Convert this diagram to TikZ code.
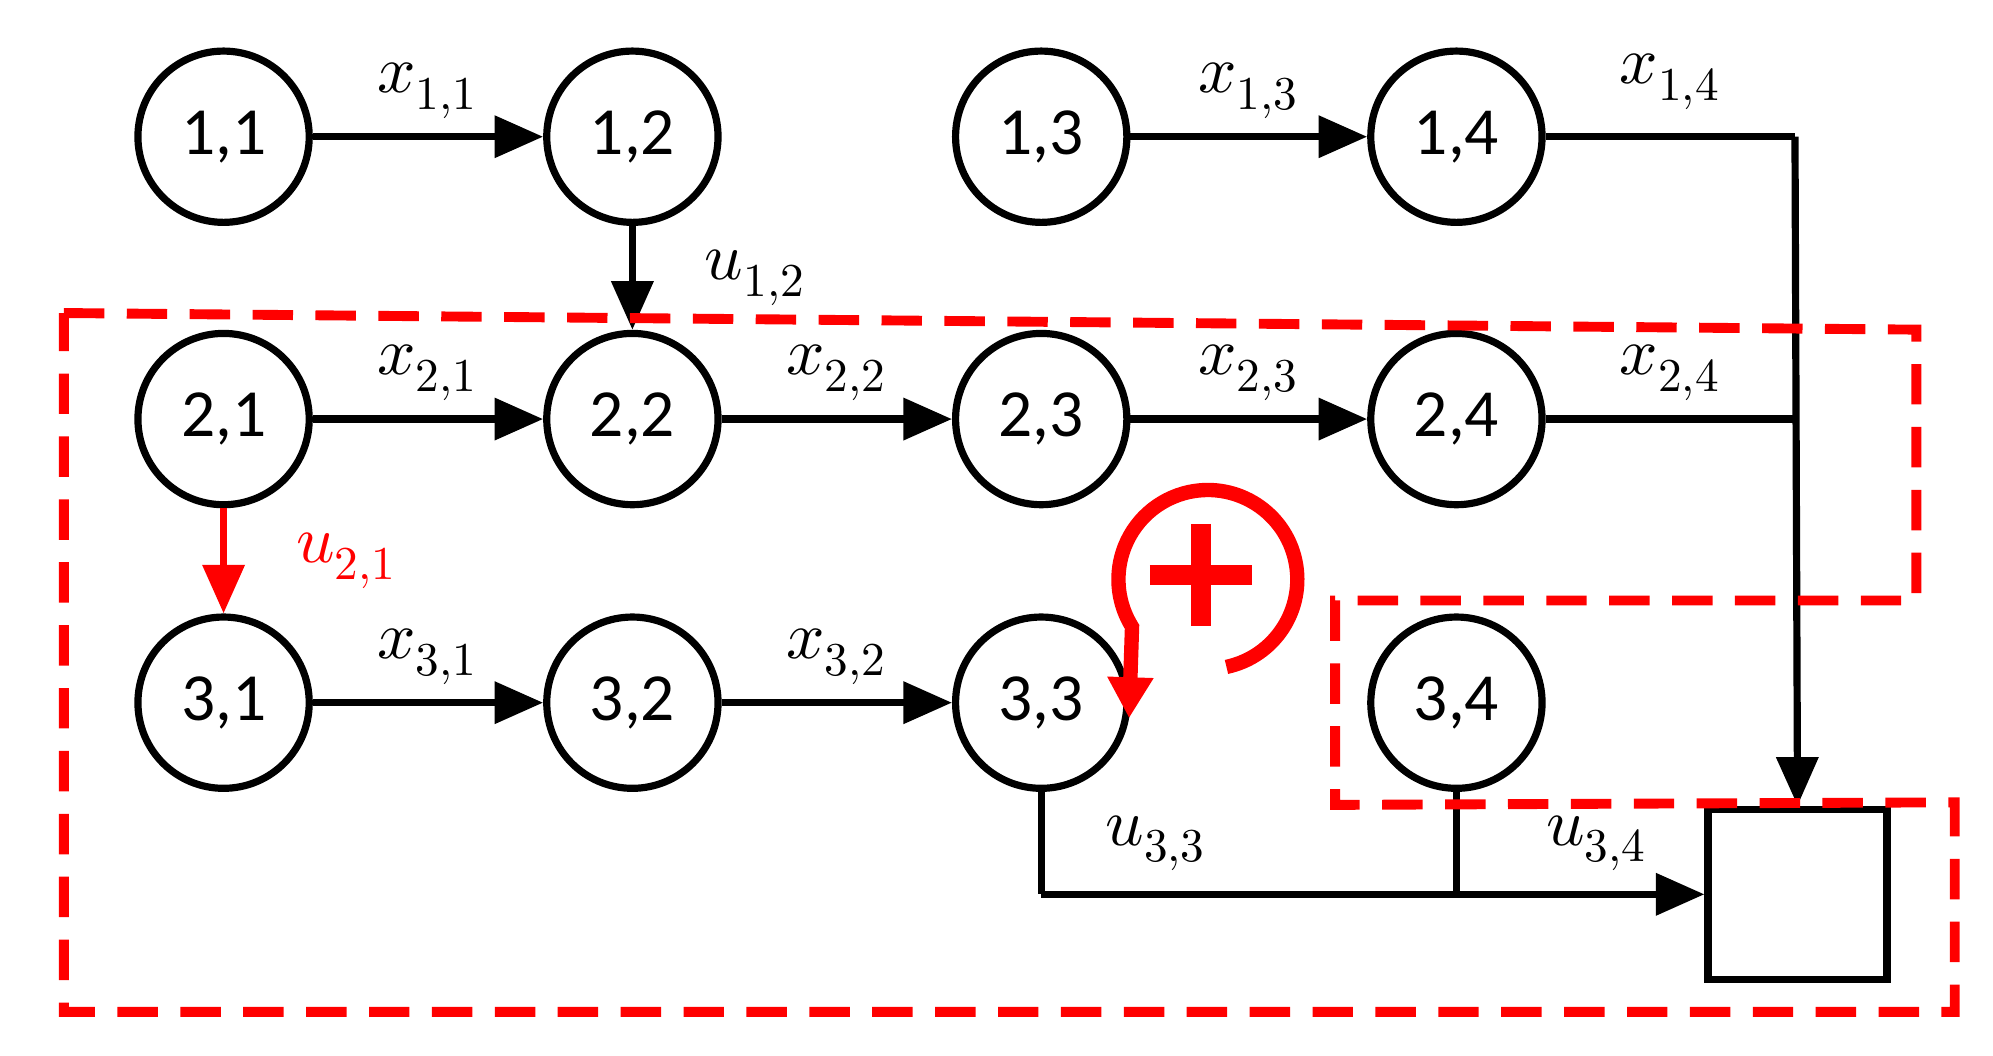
\documentclass[tikz,border=0pt]{standalone}
\usepackage{fontspec}
\setmainfont{Carlito}
\usepackage{unicode-math}
\usetikzlibrary{arrows.meta}
\begin{document}
\begin{tikzpicture}[x=0.01cm,y=-0.01cm,
 st/.style={circle,draw,line width=1.6pt,minimum size=1.34cm,inner sep=0pt,font=\fontsize{15}{17}\selectfont},
 ln/.style={line width=1.6pt},
 ar/.style={ln,-{Triangle[length=0.38cm,width=0.32cm]}},
 lb/.style={font=\fontsize{15}{17}\selectfont}]
\useasboundingbox (0,0) rectangle (1560,826);
\foreach \r/\y in {1/107,2/328,3/550}{
 \foreach \c/\x in {1/175,2/495,3/815,4/1140}{
  \node[st] (n\r\c) at (\x,\y) {\r,\c};}}
\node[draw,line width=1.6pt,minimum width=1.4cm,minimum height=1.33cm] (box) at (1407,700) {};
\coordinate (c14) at (1405,107);
\coordinate (c24) at (1405,328);
\coordinate (c33) at (815,700);
\coordinate (c34) at (1140,700);
\draw[ar] (n11) -- (n12) node[lb,midway,above] {$x_{1,1}$};
\draw[ar] (n13) -- (n14) node[lb,midway,above] {$x_{1,3}$};
\draw[ln] (n14) -- (c14) node[lb,midway,above=2pt] {$x_{1,4}$};
\draw[ar] (c14) -- (box.north);
\draw[ar] (n21) -- (n22) node[lb,midway,above] {$x_{2,1}$};
\draw[ar] (n22) -- (n23) node[lb,midway,above] {$x_{2,2}$};
\draw[ar] (n23) -- (n24) node[lb,midway,above] {$x_{2,3}$};
\draw[ln] (n24) -- (c24) node[lb,midway,above] {$x_{2,4}$};
\draw[ar] (n31) -- (n32) node[lb,midway,above] {$x_{3,1}$};
\draw[ar] (n32) -- (n33) node[lb,midway,above] {$x_{3,2}$};
\draw[ar] (n12) -- (n22) node[lb,midway,right=12pt] {$u_{1,2}$};
\draw[ar,red] (n21) -- (n31) node[lb,midway,right=12pt,text=red] {$u_{2,1}$};
\draw[ln] (n33) -- (c33);
\draw[ar] (c33) -- (box.west);
\node[lb] at (905,660) {$u_{3,3}$};
\node[lb] at (1250,660) {$u_{3,4}$};
\draw[ln] (n34) -- (c34);
\draw[red,line width=2.2pt,dash pattern=on 9pt off 5pt]
 (50,245) -- (1500,258) -- (1500,470) -- (1045,470) -- (1045,630) -- (1530,628) -- (1530,792) -- (50,792) -- cycle;
\draw[red,line width=3.2pt,-{Triangle[length=0.32cm,width=0.34cm]}]
 (960,522) arc[start angle=78,end angle=-212,radius=70] -- (n33.-10);
\draw[red,line width=4.5pt] (940,410) -- (940,490) (900,450) -- (980,450);
\end{tikzpicture}
\end{document}
